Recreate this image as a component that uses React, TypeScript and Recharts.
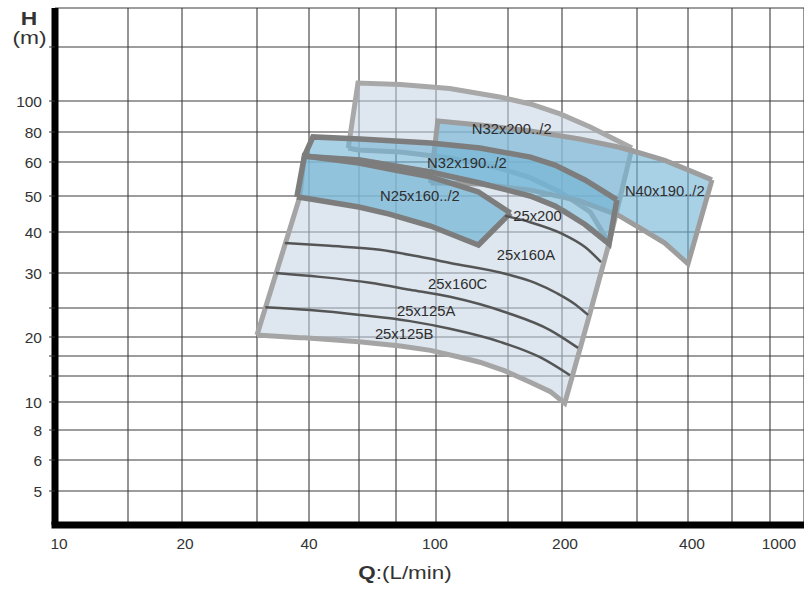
import React from 'react';
import { ComposedChart, XAxis, YAxis, CartesianGrid, Area, Line, Scatter } from 'recharts';

const FONT = '"Liberation Sans", Arial, Helvetica, sans-serif';

// ---------- axis ticks ----------
const X_TICKS = [10, 15, 20, 30, 40, 60, 80, 100, 150, 200, 300, 400, 600, 1000];
const X_TICK_LABELS = [10, 20, 40, 100, 200, 400, 1000];
const Y_TICKS = [5, 6, 8, 10, 13, 16, 20, 25, 30, 40, 50, 60, 80, 100, 150];
const Y_TICK_LABELS = [5, 6, 8, 10, 20, 30, 40, 50, 60, 80, 100];

// ---------- envelopes (Q in L/min, H low / high in m) ----------
const E25_Q = [30, 38, 39, 60, 82, 97, 114.5, 128, 147.5, 169, 188, 203, 233, 258];
const E25_LO = [20.3, 19.8, 19.8, 18.9, 18.0, 17.1, 15.8, 15.0, 13.7, 12.2, 11.1, 9.9, 24.2, 37.0];
const E25_HI = [20.3, 49.7, 63.6, 61.2, 58.4, 56.9, 54.8, 53.6, 51.8, 50.0, 47.6, 45.6, 41.0, 37.0];

const N32X200_Q = [55, 59.5, 82, 108, 143, 169, 198, 233, 258, 292];
const N32X200_LO = [68.6, 67.3, 66.0, 62.3, 58.1, 55.1, 51.1, 45.3, 37.0, 68.6];
const N32X200_HI = [68.6, 114.5, 113.2, 109.8, 103.1, 97.9, 91.1, 82.9, 76.6, 68.6];

const N40X190_Q = [97, 101, 128, 169, 220, 271, 305, 351, 400, 499];
const N40X190_LO = [53.6, 53.6, 53.3, 51.6, 48.5, 44.4, 41.0, 37.0, 32.0, 54.5];
const N40X190_HI = [53.6, 86.6, 84.1, 80.6, 74.8, 69.3, 65.4, 60.9, 57.5, 54.5];

const N32X190_Q = [39, 41.3, 60.5, 97, 128, 169, 192.7, 226.5, 258, 269];
const N32X190_LO = [63.6, 62.9, 61.2, 56.9, 53.6, 50.0, 47.0, 41.9, 36.8, 48.8];
const N32X190_HI = [63.6, 76.3, 74.8, 72.0, 68.6, 62.9, 59.0, 54.5, 50.3, 48.8];

const N25X160_Q = [37.4, 39, 60, 76, 97, 127, 152];
const N25X160_LO = [49.7, 49.4, 46.7, 44.7, 41.5, 36.5, 45.0];
const N25X160_HI = [49.7, 63.6, 59.7, 57.8, 55.4, 51.1, 45.0];

// ---------- single pump curves ----------
const C25X200_Q = [147.5, 168.7, 201, 226.5, 247];
const C25X200_H = [44.2, 42.5, 39.4, 36.0, 32.4];
const C25X160A_Q = [35, 47.4, 70.6, 91.5, 108.2, 149.2, 173.2, 194.7, 214.6, 230.2];
const C25X160A_H = [37.0, 36.3, 35.3, 33.6, 32.2, 29.8, 28.5, 27.0, 25.5, 23.7];
const C25X160C_Q = [33.3, 43.7, 65.4, 86.5, 108.2, 149.2, 187.6, 218.1];
const C25X160C_H = [30.0, 29.4, 28.5, 27.5, 26.5, 24.1, 21.1, 17.6];
const C25X125A_Q = [31.4, 40.3, 60.5, 86.5, 108.2, 143.4, 177.9, 208.8];
const C25X125A_H = [25.1, 24.6, 23.7, 22.6, 21.3, 18.9, 15.8, 13.1];

// ---------- curve labels ----------
const LABEL_NAMES = ['N32x200../2', 'N32x190../2', 'N25x160../2', '25x200', 'N40x190../2', '25x160A', '25x160C', '25x125A', '25x125B'];
const LABEL_Q = [153, 119, 91.4, 175.5, 351, 165, 113, 94.7, 83.7];
const LABEL_H = [81.8, 59.8, 50, 44.2, 51.4, 34.1, 28.4, 24.4, 20.5];

// ---------- axis layout (the printed grid is not a true log grid) ----------
const X_KNOT_VALUES = [10, 15, 20, 30, 40, 60, 80, 100, 150, 200, 300, 400, 600, 1000, 1580];
const X_KNOT_OFFSETS = [0, 73, 127, 202, 254, 304, 341, 381, 453, 507, 582, 633, 677, 715, 749];
const Y_KNOT_VALUES = [4, 5, 6, 8, 10, 13, 16, 20, 25, 30, 40, 50, 60, 80, 100, 150, 200];
const Y_KNOT_OFFSETS = [0, 34, 65, 95, 123, 149, 169, 188, 217, 252, 293, 329, 363, 393, 424, 478, 517];
const X_LABEL_DX: Record<number, number> = { 10: 4, 20: 3, 40: 0, 100: -1, 200: 3, 400: 4, 1000: 9 };

function makeKnotScale(values: number[], offsets: number[]): any {
  const span = offsets[offsets.length - 1] - offsets[0];
  let dom: number[] = [values[0], values[values.length - 1]];
  let rng: number[] = [0, 1];
  const offsetOf = (v: number) => {
    let i = 0;
    while (i < values.length - 2 && v > values[i + 1]) i++;
    const t = Math.log(v / values[i]) / Math.log(values[i + 1] / values[i]);
    return offsets[i] + t * (offsets[i + 1] - offsets[i]);
  };
  const scale: any = (v: any) => {
    const n = Number(v);
    if (!(n > 0)) return rng[0];
    return rng[0] + ((offsetOf(n) - offsets[0]) / span) * (rng[1] - rng[0]);
  };
  scale.domain = (...args: any[]) => {
    if (!args.length) return dom.slice();
    dom = Array.from(args[0] as number[]).map(Number);
    return scale;
  };
  scale.range = (...args: any[]) => {
    if (!args.length) return rng.slice();
    rng = Array.from(args[0] as number[]).map(Number);
    return scale;
  };
  scale.copy = () => makeKnotScale(values, offsets).domain(dom).range(rng);
  scale.ticks = () => values.slice();
  scale.tickFormat = () => (d: any) => String(d);
  scale.invert = (px: number) => {
    const off = offsets[0] + ((px - rng[0]) / (rng[1] - rng[0])) * span;
    let i = 0;
    while (i < offsets.length - 2 && off > offsets[i + 1]) i++;
    const t = (off - offsets[i]) / (offsets[i + 1] - offsets[i]);
    return values[i] * Math.pow(values[i + 1] / values[i], t);
  };
  return scale;
}

const xScale = makeKnotScale(X_KNOT_VALUES, X_KNOT_OFFSETS);
const yScale = makeKnotScale(Y_KNOT_VALUES, Y_KNOT_OFFSETS);

const band = (qs: number[], lo: number[], hi: number[]) => qs.map((q, i) => ({ q, h: [lo[i], hi[i]] }));
const curve = (qs: number[], hs: number[]) => qs.map((q, i) => ({ q, h: hs[i] }));

const e25 = band(E25_Q, E25_LO, E25_HI);
const n32x200 = band(N32X200_Q, N32X200_LO, N32X200_HI);
const n40x190 = band(N40X190_Q, N40X190_LO, N40X190_HI);
const n32x190 = band(N32X190_Q, N32X190_LO, N32X190_HI);
const n25x160 = band(N25X160_Q, N25X160_LO, N25X160_HI);
const c25x200 = curve(C25X200_Q, C25X200_H);
const c25x160a = curve(C25X160A_Q, C25X160A_H);
const c25x160c = curve(C25X160C_Q, C25X160C_H);
const c25x125a = curve(C25X125A_Q, C25X125A_H);
const labels = LABEL_NAMES.map((name, i) => ({ name, q: LABEL_Q[i], h: LABEL_H[i] }));

const XTick = (props: any) => {
  const { x, y, payload } = props;
  const v = payload.value;
  if (!X_TICK_LABELS.includes(v)) return <g />;
  return (
    <text x={x + (X_LABEL_DX[v] || 0)} y={y} dy="0.71em" textAnchor="middle" fontSize={15.5} fill="#333" fontFamily={FONT}>
      {v}
    </text>
  );
};

const YTick = (props: any) => {
  const { x, y, payload } = props;
  const v = payload.value;
  if (!Y_TICK_LABELS.includes(v)) return <g />;
  return (
    <text x={x} y={y} dy="0.36em" textAnchor="end" fontSize={15.5} fill="#333" fontFamily={FONT}>
      {v}
    </text>
  );
};

const LabelShape = (props: any) => {
  const { cx, cy, payload } = props;
  return (
    <text x={cx} y={cy} dy="0.36em" textAnchor="middle" fontSize={14.8} fill="#2e2e2e" fontFamily={FONT}>
      {payload.name}
    </text>
  );
};

const BLUE = '#6fb3d3';
const LIGHT = '#c3d3e1';

export default function App() {
  return (
    <div style={{ position: 'absolute', left: 0, top: 0, width: 804, height: 592, background: '#fff', fontFamily: FONT }}>
      <ComposedChart width={804} height={592} margin={{ top: 8, right: 0, bottom: 0, left: 0 }}>
        <CartesianGrid stroke="#3c3c3c" strokeWidth={1.1} />
        <XAxis
          dataKey="q"
          type="number"
          scale={xScale}
          domain={[10, 1580]}
          allowDataOverflow
          ticks={X_TICKS}
          interval={0}
          height={67}
          tickLine={false}
          tickSize={0}
          tickMargin={13}
          tick={XTick}
          axisLine={{ stroke: '#000', strokeWidth: 7, strokeLinecap: 'square' }}
        />
        <YAxis
          type="number"
          scale={yScale}
          domain={[4, 200]}
          allowDataOverflow
          ticks={Y_TICKS}
          interval={0}
          width={55}
          tickSize={6}
          tickMargin={7}
          tickLine={{ stroke: '#333' }}
          tick={YTick}
          axisLine={{ stroke: '#000', strokeWidth: 7 }}
        />
        <Area data={e25} dataKey="h" type="linear" fill={LIGHT} fillOpacity={0.55} stroke="#a5a5a5" strokeWidth={5} dot={false} activeDot={false} isAnimationActive={false} />
        <Area data={n32x200} dataKey="h" type="linear" fill={LIGHT} fillOpacity={0.55} stroke="#a8a8a8" strokeWidth={5} dot={false} activeDot={false} isAnimationActive={false} />
        <Area data={n40x190} dataKey="h" type="linear" fill={BLUE} fillOpacity={0.6} stroke="#9d9d9d" strokeWidth={5} dot={false} activeDot={false} isAnimationActive={false} />
        <Area data={n32x190} dataKey="h" type="linear" fill={BLUE} fillOpacity={0.6} stroke="#7d7d7d" strokeWidth={5.5} dot={false} activeDot={false} isAnimationActive={false} />
        <Area data={n25x160} dataKey="h" type="linear" fill={BLUE} fillOpacity={0.68} stroke="#7d7d7d" strokeWidth={5.5} dot={false} activeDot={false} isAnimationActive={false} />
        <Line data={c25x200} dataKey="h" type="monotone" stroke="#555" strokeWidth={2.5} dot={false} activeDot={false} isAnimationActive={false} />
        <Line data={c25x160a} dataKey="h" type="monotone" stroke="#555" strokeWidth={2.5} dot={false} activeDot={false} isAnimationActive={false} />
        <Line data={c25x160c} dataKey="h" type="monotone" stroke="#555" strokeWidth={2.5} dot={false} activeDot={false} isAnimationActive={false} />
        <Line data={c25x125a} dataKey="h" type="monotone" stroke="#555" strokeWidth={2.5} dot={false} activeDot={false} isAnimationActive={false} />
        <Scatter data={labels} dataKey="h" shape={LabelShape} isAnimationActive={false} />
      </ComposedChart>
      <svg width={804} height={592} style={{ position: 'absolute', left: 0, top: 0, pointerEvents: 'none' }}>
        <text transform="translate(29,25) scale(1.2,1)" textAnchor="middle" fontSize={19} fontWeight="bold" fill="#333" fontFamily={FONT}>H</text>
        <text transform="translate(29.5,44) scale(1.2,1)" textAnchor="middle" fontSize={19} fill="#333" fontFamily={FONT}>(m)</text>
        <text transform="translate(405,579) scale(1.18,1)" textAnchor="middle" fontSize={19} fill="#333" fontFamily={FONT}>
          <tspan fontWeight="bold">Q</tspan>
          <tspan>:(L/min)</tspan>
        </text>
      </svg>
    </div>
  );
}
